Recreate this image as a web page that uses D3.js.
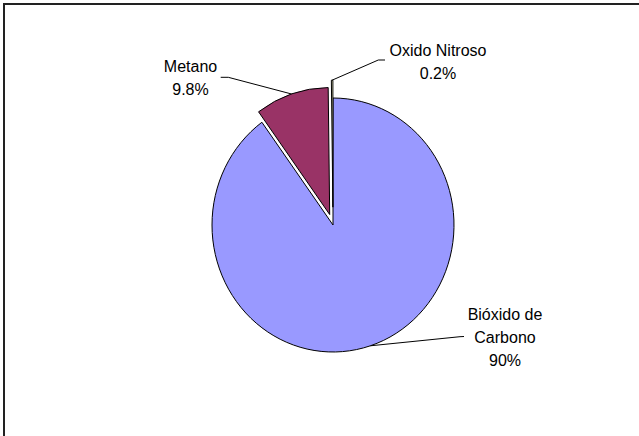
<!DOCTYPE html>
<html>
<head>
<meta charset="utf-8">
<script src="https://cdn.jsdelivr.net/npm/d3@7"></script>
<style>
  html, body { margin: 0; padding: 0; background: #fff; }
  svg { display: block; }
  text { font-family: "Liberation Sans", Arial, sans-serif; font-size: 16px; fill: #000; }
</style>
</head>
<body>
<svg id="chart" width="639" height="436"></svg>
<script>
// Emission shares by gas (percent)
const categories = ["Bióxido de Carbono", "Metano", "Oxido Nitroso"];
const values = [90, 9.8, 0.2];
const labelLines = [["Bióxido de", "Carbono"], ["Metano"], ["Oxido Nitroso"]];
const colors = ["#9999FF", "#993366", "#FFFFCC"];

const svg = d3.select("#chart");
const W = 639, H = 436;

// chart area frame (runs past the right and bottom edges)
svg.append("rect")
  .attr("x", 4).attr("y", 4)
  .attr("width", W + 40).attr("height", H + 40)
  .attr("fill", "#fff")
  .attr("stroke", "#222").attr("stroke-width", 2);

const cx = 333, cy = 225;
const r = 121;
const yScale = 127 / 121;            // slight vertical stretch of the plot
const explode = { "Metano": 10.5, "Oxido Nitroso": 17 };

const pie = d3.pie().sort(null).value(d => d.value)
  .startAngle(0).endAngle(2 * Math.PI);
const arcs = pie(categories.map((c, i) => ({ name: c, value: values[i], color: colors[i], lines: labelLines[i] })));

const arc = d3.arc().innerRadius(0).outerRadius(r);

const g = svg.append("g")
  .attr("transform", `translate(${cx},${cy}) scale(1,${yScale})`);

function offsetOf(a) {
  const d = explode[a.data.name] || 0;
  const m = (a.startAngle + a.endAngle) / 2;
  return [d * Math.sin(m), -d * Math.cos(m)];
}

g.selectAll("path.slice")
  .data(arcs)
  .join("path")
  .attr("class", "slice")
  .attr("transform", a => { const o = offsetOf(a); return `translate(${o[0]},${o[1]})`; })
  .attr("d", arc)
  .attr("fill", a => a.data.color)
  .attr("stroke", "#000")
  .attr("stroke-width", 1)
  .attr("vector-effect", "non-scaling-stroke")
  .attr("stroke-linejoin", "round");

// point on a slice's outer edge at its middle angle, in page coordinates
function edgePoint(a) {
  const m = (a.startAngle + a.endAngle) / 2;
  const o = offsetOf(a);
  const x = r * Math.sin(m) + o[0];
  const y = -r * Math.cos(m) + o[1];
  return [cx + x, cy + y * yScale];
}

// label placement: centre x, first baseline, elbow points of the leader
const labelPos = {
  "Bióxido de Carbono": { x: 505, y: 320, elbow: [[464, 336.5], [460, 336.7]] },
  "Metano": { x: 190.5, y: 72, elbow: [[220.7, 77.3], [228.3, 77.3]] },
  "Oxido Nitroso": { x: 438, y: 56, elbow: [[385, 60], [378.3, 60]] }
};
const lineGap = 23;
const fmt = v => `${v}%`;

arcs.forEach(a => {
  const p = labelPos[a.data.name];
  const pts = p.elbow.concat([edgePoint(a)]);
  svg.append("path")
    .attr("d", d3.line()(pts))
    .attr("fill", "none")
    .attr("stroke", "#000")
    .attr("stroke-width", 1);

  const t = svg.append("text").attr("text-anchor", "middle");
  const lines = a.data.lines.concat([fmt(a.data.value)]);
  lines.forEach((s, i) => {
    t.append("tspan").attr("x", p.x).attr("y", p.y + i * lineGap).text(s);
  });
});
</script>
</body>
</html>
